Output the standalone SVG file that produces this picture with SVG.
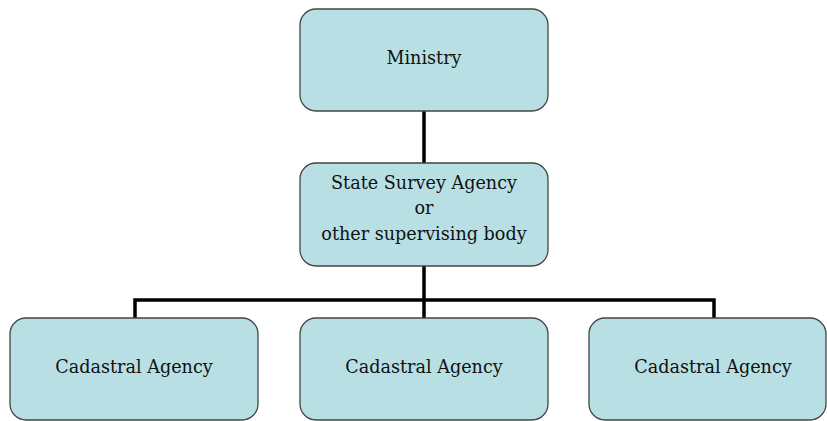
<svg xmlns="http://www.w3.org/2000/svg" width="827" height="421" viewBox="0 0 827 421">
<style>
.box{fill:#b8e0e4;stroke:#444;stroke-width:1.3}
.t{font-family:"DejaVu Serif","Liberation Serif",serif;font-size:17.6px;fill:#111;text-anchor:middle}
.c{fill:none;stroke:#000;stroke-width:3.5}
</style>
<rect width="827" height="421" fill="#fff"/>
<g id="connectors">
<path class="c" d="M424 111V164"/>
<path class="c" d="M424 266V300M135 318V300H714V318M424 300V318"/>
</g>
<g id="ministry">
<rect class="box" x="300" y="9" width="248" height="102" rx="16"/>
<text class="t" x="424" y="64">Ministry</text>
</g>
<g id="state">
<rect class="box" x="300" y="163" width="248" height="103" rx="16"/>
<text class="t" x="424" y="189">State Survey Agency</text>
<text class="t" x="424" y="214">or</text>
<text class="t" x="424" y="240">other supervising body</text>
</g>
<g id="cad1">
<rect class="box" x="10" y="318" width="248" height="102" rx="16"/>
<text class="t" x="134" y="373">Cadastral Agency</text>
</g>
<g id="cad2">
<rect class="box" x="300" y="318" width="248" height="102" rx="16"/>
<text class="t" x="424" y="373">Cadastral Agency</text>
</g>
<g id="cad3">
<rect class="box" x="589" y="318" width="237" height="102" rx="16"/>
<text class="t" x="713" y="373">Cadastral Agency</text>
</g>
</svg>
